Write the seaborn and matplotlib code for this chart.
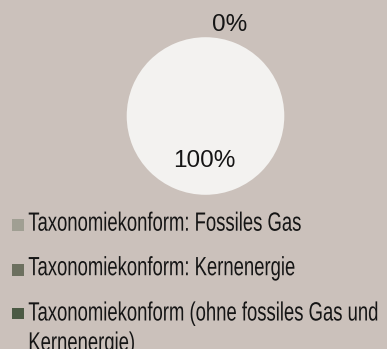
import matplotlib
matplotlib.use("Agg")
import matplotlib.pyplot as plt
import matplotlib.patheffects as pe
from matplotlib.patches import Rectangle
from matplotlib.transforms import Affine2D
import seaborn as sns

sns.set_theme(style="white")
plt.rcParams["font.family"] = ["Liberation Sans", "DejaVu Sans"]

# Portfolio share by taxonomy category (percent)
categories = [
    "Taxonomiekonform: Fossiles Gas",
    "Taxonomiekonform: Kernenergie",
    "Taxonomiekonform (ohne fossiles Gas und\nKernenergie)",
    "Nicht taxonomiekonform",
]
shares = [0, 0, 0, 100]
colors = ["#a09f93", "#6c705f", "#4b5a44", "#f3f2f0"]
bg = "#cbc1bb"
ink = "#151515"

W, H = 387, 349


class Tall(pe.AbstractPathEffect):
    """Stretch glyph outlines vertically about the baseline (condensed look)."""

    def __init__(self, sy):
        super().__init__()
        self.sy = sy

    def draw_path(self, renderer, gc, tpath, affine, rgbFace=None):
        renderer.draw_path(gc, tpath, Affine2D().scale(1, self.sy) + affine, rgbFace)


fig = plt.figure(figsize=(W / 100, H / 100), dpi=100, facecolor=bg)
cx, cy, r = 205.5, 116.0, 78.8
ax = fig.add_axes([(cx - r) / W, 1 - (cy + r) / H, 2 * r / W, 2 * r / H])
ax.set_facecolor(bg)

wedges, _ = ax.pie(
    shares,
    colors=colors,
    startangle=90,
    counterclock=False,
    radius=1.0,
    wedgeprops=dict(linewidth=0),
)
ax.set_xlim(-1, 1)
ax.set_ylim(-1, 1)
ax.set_aspect("equal")
ax.axis("off")

# Percentage labels: combined taxonomy-aligned share and the remainder
aligned = sum(shares[:3])
ax.text(0.305, 1.085, f"{aligned}%", ha="center", va="baseline",
        fontsize=17.5, color=ink)
ax.text(-0.019, -0.643, f"{shares[3]}%", ha="center", va="baseline",
        fontsize=17.5, color=ink)

# Legend for the taxonomy-aligned categories, drawn in figure pixels
# (baseline of the last text line for each entry)
last_baselines = [230.7, 275.2, 350.5]
square_bottoms = [230.7, 275.5, 319.3]
sq = 11.6
for label, color, base, sqb in zip(categories[:3], colors[:3],
                                   last_baselines, square_bottoms):
    fig.patches.append(Rectangle((12 / W, 1 - sqb / H), sq / W, sq / H,
                                 transform=fig.transFigure, facecolor=color,
                                 edgecolor="none"))
    fig.text(28.3 / W, 1 - base / H, label, ha="left", va="baseline",
             fontsize=13.3, color=ink, linespacing=2.0,
             path_effects=[Tall(1 / 0.70)])

fig.savefig("out.png", dpi=100, facecolor=bg)
